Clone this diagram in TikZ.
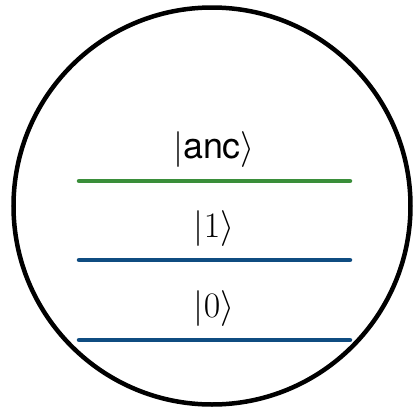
\RequirePackage{fix-cm}
\documentclass[tikz,border=0pt]{standalone}
\usepackage{amsmath}
\usepackage{fontspec}
\setsansfont{TeX Gyre Heros}
\usepackage{tikz}
\definecolor{ancgreen}{HTML}{3A8E3A}
\definecolor{levelblue}{HTML}{0F4C81}
\tikzset{
  level/.style={line width=4.5bp,line cap=round},
  ketlabel/.style={anchor=base,inner sep=0pt,font=\fontsize{36}{42}\selectfont}
}

\begin{document}
\begin{tikzpicture}[x=1bp,y=-1bp]
  \useasboundingbox (0,0) rectangle (416,408);
  \draw[line width=4.5bp] (212,206) circle[radius=198.5];
  \foreach \n/\y/\c/\t in {anc/181/ancgreen/{\text{\sffamily anc}},one/260/levelblue/1,zero/340/levelblue/0}{
    \draw[level,\c] (79,\y) -- (350,\y);
    \node[ketlabel] (lbl\n) at (214,\y-23) {$|\t\rangle$};
  }
\end{tikzpicture}
\end{document}
